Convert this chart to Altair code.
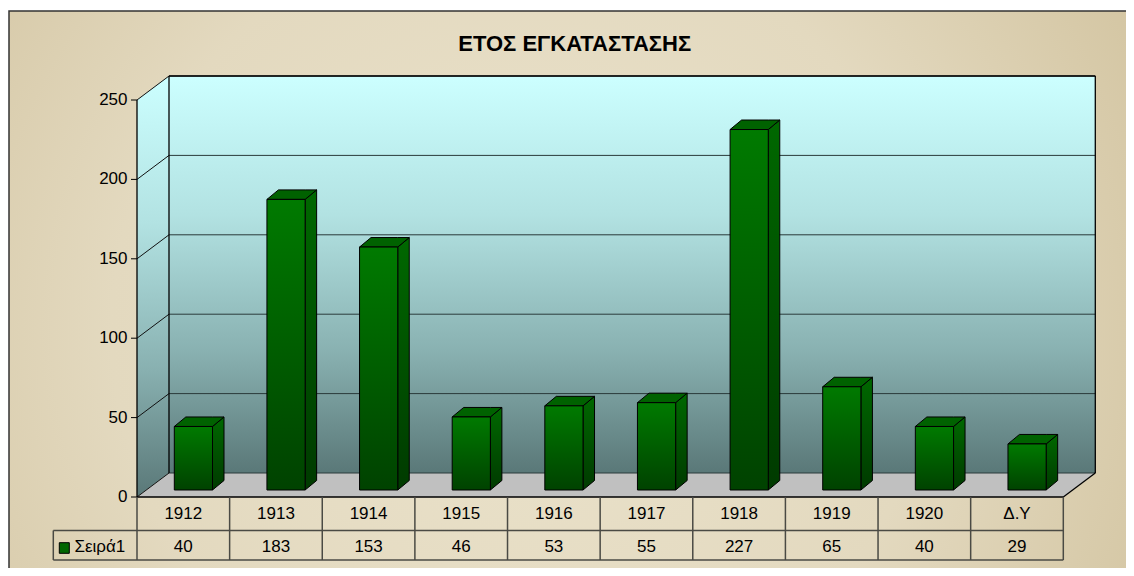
import altair as alt
import pandas as pd

# ---- data ----
categories = ["1912", "1913", "1914", "1915", "1916", "1917", "1918", "1919", "1920", "Δ.Υ"]
values = [40, 183, 153, 46, 53, 55, 227, 65, 40, 29]
y_ticks = [0, 50, 100, 150, 200, 250]
series_name = "Σειρά1"
title_text = "ΕΤΟΣ ΕΓΚΑΤΑΣΤΑΣΗΣ"

# ---- layout (pixels -> data units) ----
W, H = 1118, 560
CW = 92.63          # px per category
PX0 = 129.0         # px of category origin
PY0 = 489.0         # px of value 0 (front plane)
K = 1.588           # px per value unit
XD = [-PX0 / CW, (W - PX0) / CW]
YD = [(PY0 - H) / K, PY0 / K]
DU, DV = 32 / CW, 24 / K              # wall depth
BU0, BW = 37.3 / CW, 38.2 / CW        # bar offset / width
BV0 = 7 / K                           # bar base
BDU, BDV = 11.5 / CW, 9.5 / K         # bar depth
N = len(categories)
VMAX = y_ticks[-1]
ROW1 = -33.5 / K
ROW2 = -63.0 / K
LEFTU = -83.7 / CW
FONT = "Liberation Sans"
FS = 17

xs = alt.Scale(domain=XD, nice=False, zero=False)
ys = alt.Scale(domain=YD, nice=False, zero=False)


def X(f):
    return alt.X(f, type="quantitative", scale=xs, axis=None)


def Y(f):
    return alt.Y(f, type="quantitative", scale=ys, axis=None, stack=None)


# ---- tables ----
bars = pd.DataFrame({"cat": categories, "val": values, "i": range(N)})
bars["x0"] = bars["i"] + BU0
bars["x1"] = bars["x0"] + BW
bars["yb"] = BV0
bars["yt"] = BV0 + bars["val"]

side_rows, top_rows = [], []
for rec in bars.to_dict("records"):
    c, x0, x1, yb, yt = rec["cat"], rec["x0"], rec["x1"], rec["yb"], rec["yt"]
    side_rows += [
        {"cat": c, "u": x1, "lo": yb, "hi": yt},
        {"cat": c, "u": x1 + BDU, "lo": yb + BDV, "hi": yt + BDV},
    ]
    top_rows += [
        {"cat": c, "u": x0, "lo": yt, "hi": yt},
        {"cat": c, "u": x0 + BDU, "lo": yt, "hi": yt + BDV},
        {"cat": c, "u": x1, "lo": yt, "hi": yt + BDV},
        {"cat": c, "u": x1 + BDU, "lo": yt + BDV, "hi": yt + BDV},
    ]
side = pd.DataFrame(side_rows)
top = pd.DataFrame(top_rows)

wall_grad = alt.LinearGradient(
    gradient="linear", x1=0, y1=0, x2=0, y2=1,
    stops=[alt.GradientStop(offset=0, color="#ccffff"),
           alt.GradientStop(offset=0.35, color="#b2e2e2"),
           alt.GradientStop(offset=0.7, color="#88b0b0"),
           alt.GradientStop(offset=1, color="#5a7878")])
front_grad = alt.LinearGradient(
    gradient="linear", x1=0, y1=0, x2=0, y2=1,
    stops=[alt.GradientStop(offset=0, color="#007a00"),
           alt.GradientStop(offset=1, color="#004200")])
side_grad = alt.LinearGradient(
    gradient="linear", x1=0, y1=0, x2=0, y2=1,
    stops=[alt.GradientStop(offset=0, color="#006800"),
           alt.GradientStop(offset=1, color="#003a00")])
bg_grad = alt.RadialGradient(
    gradient="radial", x1=0.45, y1=0.5, r1=0, x2=0.45, y2=0.5, r2=0.72,
    stops=[alt.GradientStop(offset=0, color="#ebe3cc"),
           alt.GradientStop(offset=0.5, color="#e3d9bf"),
           alt.GradientStop(offset=1, color="#cdbd96")])

one = pd.DataFrame({"a": [0]})

background = alt.Chart(one).mark_rect(fill=bg_grad, stroke="#333333", strokeWidth=1.5).encode(
    x=alt.value(1), x2=alt.value(1140), y=alt.value(3), y2=alt.value(640))

back_wall = alt.Chart(pd.DataFrame({"u0": [DU], "u1": [N + DU], "v0": [DV], "v1": [VMAX + DV]})).mark_rect(
    fill=wall_grad).encode(x=X("u0"), x2="u1", y=Y("v1"), y2="v0")

left_wall = alt.Chart(pd.DataFrame({"u": [0, DU], "lo": [0, DV], "hi": [VMAX, VMAX + DV]})).mark_area(
    fill=wall_grad, line=False).encode(x=X("u"), y=Y("hi"), y2="lo")

floor = alt.Chart(pd.DataFrame({"u": [0, DU, N, N + DU], "lo": [0, 0, 0, DV], "hi": [0, DV, DV, DV]})).mark_area(
    fill="#c0c0c0").encode(x=X("u"), y=Y("hi"), y2="lo")

ticks = pd.DataFrame({"t": y_ticks})
ticks["tb"] = ticks["t"] + DV
ticks["ub0"] = DU
ticks["ub1"] = N + DU
ticks["u0"] = 0.0
ticks["tick0"] = -6 / CW
ticks["lab"] = -9.5 / CW

grid_back = alt.Chart(ticks).mark_rule(color="#2a3a3a", strokeWidth=1).encode(
    x=X("ub0"), x2="ub1", y=Y("tb"))
grid_diag = alt.Chart(ticks).mark_rule(color="#111111", strokeWidth=1).encode(
    x=X("u0"), x2="ub0", y=Y("t"), y2="tb")

edges = pd.DataFrame({
    "a": [0, DU, N + DU, 0, N, DU],
    "b": [0, DU, N + DU, N, N + DU, N + DU],
    "c": [0, DV, DV, 0, 0, VMAX + DV],
    "d": [VMAX, VMAX + DV, VMAX + DV, 0, DV, VMAX + DV],
})
outlines = alt.Chart(edges).mark_rule(color="black", strokeWidth=1.3).encode(
    x=X("a"), x2="b", y=Y("c"), y2="d")

bar_front = alt.Chart(bars).mark_rect(fill=front_grad, stroke="black", strokeWidth=1).encode(
    x=X("x0"), x2="x1", y=Y("yt"), y2="yb")
bar_side = alt.Chart(side).mark_area(fill=side_grad, stroke="black", strokeWidth=1).encode(
    x=X("u"), y=Y("hi"), y2="lo", detail="cat:N")
bar_top = alt.Chart(top).mark_area(fill="#006200", stroke="black", strokeWidth=1).encode(
    x=X("u"), y=Y("hi"), y2="lo", detail="cat:N")

tick_marks = alt.Chart(ticks).mark_rule(color="black", strokeWidth=1).encode(
    x=X("tick0"), x2="u0", y=Y("t"))
tick_labels = alt.Chart(ticks).mark_text(align="right", baseline="middle", font=FONT, fontSize=FS,
                                         color="black").encode(x=X("lab"), y=Y("t"), text="t:Q")

# table grid
tl = pd.DataFrame({
    "a": [float(i) for i in range(N + 1)] + [LEFTU, LEFTU, LEFTU],
    "b": [float(i) for i in range(N + 1)] + [LEFTU, N, N],
    "c": [0.0] * (N + 1) + [ROW1, ROW1, ROW2],
    "d": [ROW2] * (N + 1) + [ROW2, ROW1, ROW2],
})
table_lines = alt.Chart(tl).mark_rule(color="#4a4a44", strokeWidth=1.5).encode(
    x=X("a"), x2="b", y=Y("c"), y2="d")

tab = bars[["cat", "val", "i"]].copy()
tab["xc"] = tab["i"] + 0.5
tab["yh"] = -22 / K
tab["yv"] = -54.7 / K
head_text = alt.Chart(tab).mark_text(align="center", baseline="alphabetic", font=FONT, fontSize=FS,
                                     color="black").encode(x=X("xc"), y=Y("yh"), text="cat:N")
val_text = alt.Chart(tab).mark_text(align="center", baseline="alphabetic", font=FONT, fontSize=FS,
                                    color="black").encode(x=X("xc"), y=Y("yv"), text="val:Q")

leg = pd.DataFrame({"name": [series_name],
                    "s0": [(59.3 - 137) / CW], "s1": [(69.3 - 137) / CW],
                    "t0": [(497 - 542.7) / K], "t1": [(497 - 553.3) / K],
                    "lx": [(74.5 - 137) / CW], "ly": [-54.7 / K]})
leg_sq = alt.Chart(leg).mark_rect(fill="#006600", stroke="black", strokeWidth=1).encode(
    x=X("s0"), x2="s1", y=Y("t0"), y2="t1")
leg_txt = alt.Chart(leg).mark_text(align="left", baseline="alphabetic", font=FONT, fontSize=FS,
                                   color="black").encode(x=X("lx"), y=Y("ly"), text="name:N")

title = alt.Chart(pd.DataFrame({"t": [title_text]})).mark_text(
    align="center", baseline="alphabetic", font=FONT, fontSize=22, fontWeight="bold", color="black"
).encode(x=alt.value(566.7), y=alt.value(42.5), text="t:N")

chart = alt.layer(
    background, back_wall, left_wall, floor, grid_back, grid_diag, outlines,
    bar_side, bar_top, bar_front, tick_marks, tick_labels,
    table_lines, head_text, val_text, leg_sq, leg_txt, title
).properties(
    width=W, height=H, padding=0, autosize=alt.AutoSizeParams(type="none"), background="white"
).configure_view(stroke=None)

chart.save("out.html", embed_options={"renderer": "svg", "actions": False})
